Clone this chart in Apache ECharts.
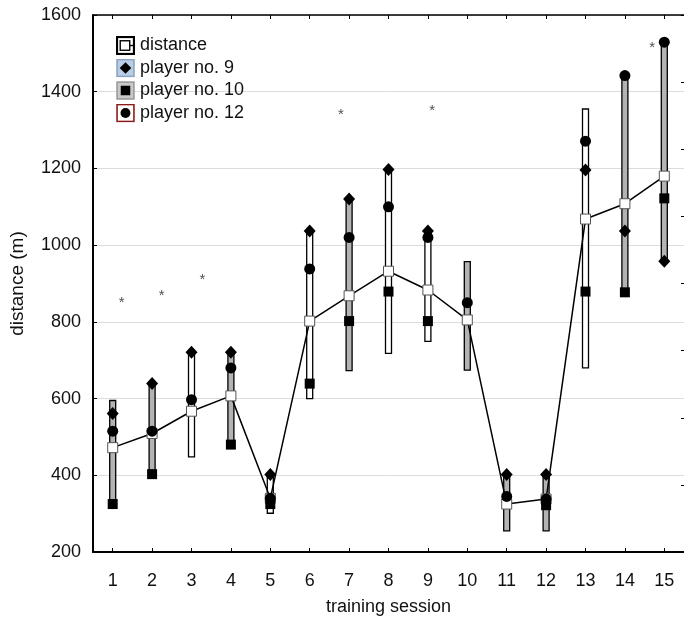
<!DOCTYPE html>
<html>
<head>
<meta charset="utf-8">
<script src="https://cdn.jsdelivr.net/npm/echarts@6/dist/echarts.min.js"></script>
<style>
  html, body { margin: 0; padding: 0; background: #fff; }
  #chart { width: 684px; height: 621px; }
</style>
</head>
<body>
<div id="chart"></div>
<script>
// training sessions and distances (m)
var sessions = [1, 2, 3, 4, 5, 6, 7, 8, 9, 10, 11, 12, 13, 14, 15];
var distMean = [472, 509, 567, 607, 340, 802, 868, 932, 883, 805, 325, 338, 1068, 1108, 1180];
var distHigh = [595, 640, 721, 721, 402, 1037, 1120, 1197, 1037, 957, 400, 400, 1355, 1442, 1529];
var distLow = [325, 403, 448, 480, 301, 600, 673, 718, 749, 674, 255, 255, 680, 877, 958];
var player9 = [561, 639, 721, 721, 402, 1037, 1120, 1197, 1037, null, 402, 402, 1196, 1037, 958];
var player10 = [325, 403, null, 480, 325, 639, 802, 879, 802, null, null, 322, 879, 877, 1122];
var player12 = [515, 515, 597, 680, 340, 938, 1020, 1100, 1020, 850, 345, 338, 1271, 1442, 1529];
// asterisks
var starX = [1.23, 2.24, 3.28, 6.79, 9.11, 14.69];
var starY = [860, 879, 920, 1351, 1361, 1525];
// sessions whose range bar is shaded grey
var shadedSessions = [1, 2, 4, 7, 10, 11, 12, 14, 15];

function pairs(vals) {
  return sessions.map(function (s, i) { return [s, vals[i]]; });
}

function svgIcon(body) {
  var svg = "<svg xmlns='http://www.w3.org/2000/svg' width='18' height='18'>" + body + "</svg>";
  return 'image://data:image/svg+xml;charset=utf-8,' + encodeURIComponent(svg);
}

var icons = {
  distance: svgIcon("<rect x='1' y='1' width='16' height='16' fill='#fff' stroke='#000' stroke-width='2'/>" +
    "<rect x='4' y='4.5' width='9' height='9' fill='#fff' stroke='#000' stroke-width='1.3'/>" +
    "<line x1='13' y1='9' x2='17' y2='9' stroke='#000' stroke-width='1.3'/>"),
  p9: svgIcon("<rect x='1' y='1' width='16' height='16' fill='#b9cde5' stroke='#8aa3c2' stroke-width='1.5'/>" +
    "<path d='M9 3.5 L14.5 9 L9 14.5 L3.5 9 Z' fill='#000'/>"),
  p10: svgIcon("<rect x='1' y='1' width='16' height='16' fill='#c8c8c8' stroke='#9a9a9a' stroke-width='1.5'/>" +
    "<rect x='4.5' y='4.5' width='9' height='9' fill='#000'/>"),
  p12: svgIcon("<rect x='1' y='1' width='16' height='16' fill='#fff' stroke='#8b1a1a' stroke-width='1.5'/>" +
    "<circle cx='9' cy='9' r='4.7' fill='#000'/>")
};

var font = 'Liberation Sans, Arial, sans-serif';

function renderRange(params, api) {
  var s = api.value(0);
  var top = api.coord([s, api.value(2)]);
  var bot = api.coord([s, api.value(1)]);
  return {
    type: 'rect',
    shape: { x: top[0] - 3, y: top[1], width: 6, height: bot[1] - top[1] },
    style: {
      fill: shadedSessions.indexOf(s) >= 0 ? '#b3b3b3' : '#fff',
      stroke: '#000',
      lineWidth: 1.3
    }
  };
}

var chart = echarts.init(document.getElementById('chart'));
chart.setOption({
  animation: false,
  textStyle: { fontFamily: font },
  grid: { left: 91, right: -1, top: 15, bottom: 67 },
  legend: {
    orient: 'vertical',
    left: 116,
    top: 36,
    padding: 0,
    itemWidth: 19,
    itemHeight: 19,
    itemGap: 3.5,
    selectedMode: false,
    textStyle: { fontSize: 18, color: '#111', fontFamily: font },
    data: [
      { name: 'distance', icon: icons.distance },
      { name: 'player no. 9', icon: icons.p9 },
      { name: 'player no. 10', icon: icons.p10 },
      { name: 'player no. 12', icon: icons.p12 }
    ]
  },
  xAxis: [{
    type: 'value',
    min: 0.5,
    max: 15.5,
    name: 'training session',
    nameLocation: 'middle',
    nameGap: 46,
    nameTextStyle: { fontSize: 18, color: '#111' },
    axisLine: { lineStyle: { color: '#000', width: 2 } },
    axisTick: { inside: true, length: 4, lineStyle: { color: '#000' }, customValues: sessions },
    axisLabel: { fontSize: 18, color: '#111', margin: 20, customValues: sessions },
    splitLine: { show: false }
  }, {
    type: 'value',
    position: 'top',
    min: 0.5,
    max: 15.5,
    axisLine: { lineStyle: { color: '#000', width: 1.5 } },
    axisTick: { inside: true, length: 4, lineStyle: { color: '#000' }, customValues: sessions },
    axisLabel: { show: false },
    splitLine: { show: false }
  }],
  yAxis: [{
    type: 'value',
    min: 200,
    max: 1600,
    interval: 200,
    name: 'distance (m)',
    nameLocation: 'middle',
    nameGap: 66,
    nameTextStyle: { fontSize: 19, color: '#111' },
    axisLine: { show: true, lineStyle: { color: '#000', width: 2 } },
    axisTick: { show: true, inside: true, length: 4, lineStyle: { color: '#000' } },
    axisLabel: { fontSize: 18, color: '#111', margin: 12, formatter: function (v) { return String(v); } },
    splitLine: { lineStyle: { color: '#dcdcdc', width: 1 } }
  }, {
    type: 'value',
    position: 'right',
    min: 0,
    max: 8,
    interval: 1,
    axisLine: { show: false },
    axisTick: { show: true, inside: true, length: 3, lineStyle: { color: '#000' } },
    axisLabel: { show: false },
    splitLine: { show: false }
  }],
  series: [{
    name: 'range',
    type: 'custom',
    renderItem: renderRange,
    silent: true,
    z: 1,
    encode: { x: 0, y: [1, 2] },
    data: sessions.map(function (s, i) { return [s, distLow[i], distHigh[i]]; })
  }, {
    name: 'distance',
    type: 'line',
    data: pairs(distMean),
    symbol: 'rect',
    symbolSize: 10,
    showAllSymbol: true,
    z: 2,
    lineStyle: { color: '#000', width: 1.5 },
    itemStyle: { color: '#fff', borderColor: '#555', borderWidth: 1 },
    emphasis: { disabled: true },
    silent: true
  }, {
    name: 'player no. 9',
    type: 'scatter',
    data: pairs(player9),
    symbol: 'diamond',
    symbolSize: [12, 13],
    z: 3,
    itemStyle: { color: '#000', opacity: 1 },
    emphasis: { disabled: true },
    silent: true
  }, {
    name: 'player no. 10',
    type: 'scatter',
    data: pairs(player10),
    symbol: 'rect',
    symbolSize: 10,
    z: 4,
    itemStyle: { color: '#000', opacity: 1 },
    emphasis: { disabled: true },
    silent: true
  }, {
    name: 'player no. 12',
    type: 'scatter',
    data: pairs(player12),
    symbol: 'circle',
    symbolSize: 11,
    z: 5,
    itemStyle: { color: '#000', opacity: 1 },
    emphasis: { disabled: true },
    silent: true
  }, {
    name: 'significance',
    type: 'scatter',
    data: starX.map(function (x, i) { return [x, starY[i]]; }),
    symbol: 'circle',
    symbolSize: 0,
    z: 5,
    label: {
      show: true,
      position: 'inside',
      formatter: '*',
      fontSize: 15,
      color: '#222',
      offset: [0, 4]
    },
    emphasis: { disabled: true },
    silent: true
  }]
});
</script>
</body>
</html>
